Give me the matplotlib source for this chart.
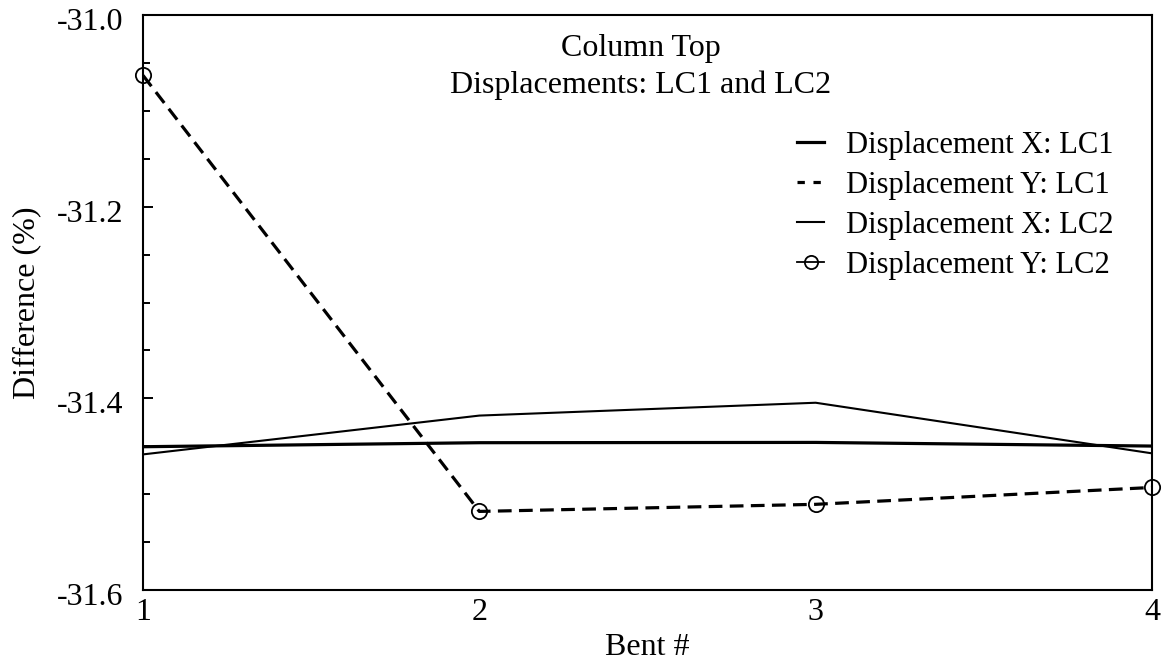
import matplotlib
matplotlib.use("Agg")
import matplotlib.pyplot as plt
from matplotlib.lines import Line2D
from matplotlib.ticker import MultipleLocator, FuncFormatter
from matplotlib.transforms import ScaledTranslation

plt.rcParams['font.family'] = ['Liberation Serif', 'DejaVu Serif']

bents = [1, 2, 3, 4]
disp_x_lc1 = [-31.4505, -31.4463, -31.4460, -31.4498]
disp_y_lc1 = [-31.063, -31.518, -31.5106, -31.493]
disp_x_lc2 = [-31.4585, -31.418, -31.4046, -31.4574]
disp_y_lc2 = [-31.063, -31.518, -31.5106, -31.493]

labels = ["Displacement X: LC1", "Displacement Y: LC1",
          "Displacement X: LC2", "Displacement Y: LC2"]
title_text = "Column Top\nDisplacements: LC1 and LC2"

W, H = 1164, 661
fig = plt.figure(figsize=(W / 100, H / 100), dpi=100)
ax = fig.add_axes([143 / W, (H - 590) / H, 1009 / W, 575 / H])

ax.plot(bents, disp_x_lc1, color='black', lw=2.3)
ax.plot(bents, disp_y_lc1, color='black', lw=2.3, linestyle=(0, (4.3, 2.3)))
ax.plot(bents, disp_x_lc2, color='black', lw=1.5)
ax.plot(bents, disp_y_lc2, color='black', linestyle='none', marker='o',
        markersize=11, markerfacecolor='none', markeredgewidth=1.3,
        markeredgecolor='black', clip_on=False, zorder=5)

ax.set_xlim(1, 4)
ax.set_ylim(-31.6, -31.0)
ax.set_xticks(bents)
ax.yaxis.set_major_locator(MultipleLocator(0.2))
ax.yaxis.set_minor_locator(MultipleLocator(0.05))
ax.yaxis.set_major_formatter(FuncFormatter(lambda v, p: f"{v:.1f}"))

ax.tick_params(axis='x', length=0, pad=6, labelsize=23)
ax.tick_params(axis='y', which='major', direction='in', length=7, width=1.4,
               pad=14, labelsize=23)
ax.tick_params(axis='y', which='minor', direction='in', length=5, width=1.4)
for s in ax.spines.values():
    s.set_linewidth(1.5)

offset = ScaledTranslation(0, -4 / 100, fig.dpi_scale_trans)
for lab in ax.get_yticklabels():
    lab.set_transform(lab.get_transform() + offset)

ax.set_xlabel("Bent #", fontsize=23, va='top')
ax.xaxis.set_label_coords(0.5, -0.074)
ax.set_ylabel("Difference (%)", fontsize=23)
ax.yaxis.set_label_coords(-0.101, 0.5)

ax.text(0.4936, 0.9096, title_text, transform=ax.transAxes, ha='center',
        va='center', fontsize=23, multialignment='center', linespacing=1.32)

handles = [
    Line2D([], [], color='black', lw=2.3),
    Line2D([], [], color='black', lw=2.3, linestyle=(0, (2.3, 2.7))),
    Line2D([], [], color='black', lw=1.5),
    Line2D([], [], color='black', lw=1.3, marker='o', markersize=9.5,
           markerfacecolor='none', markeredgewidth=1.3),
]
ax.legend(handles, labels, loc='upper left', bbox_to_anchor=(0.648, 0.798),
          frameon=False, fontsize=22, borderpad=0, borderaxespad=0,
          handlelength=0.9, handletextpad=0.72, labelspacing=0.36)

fig.savefig("out.png", dpi=100)
